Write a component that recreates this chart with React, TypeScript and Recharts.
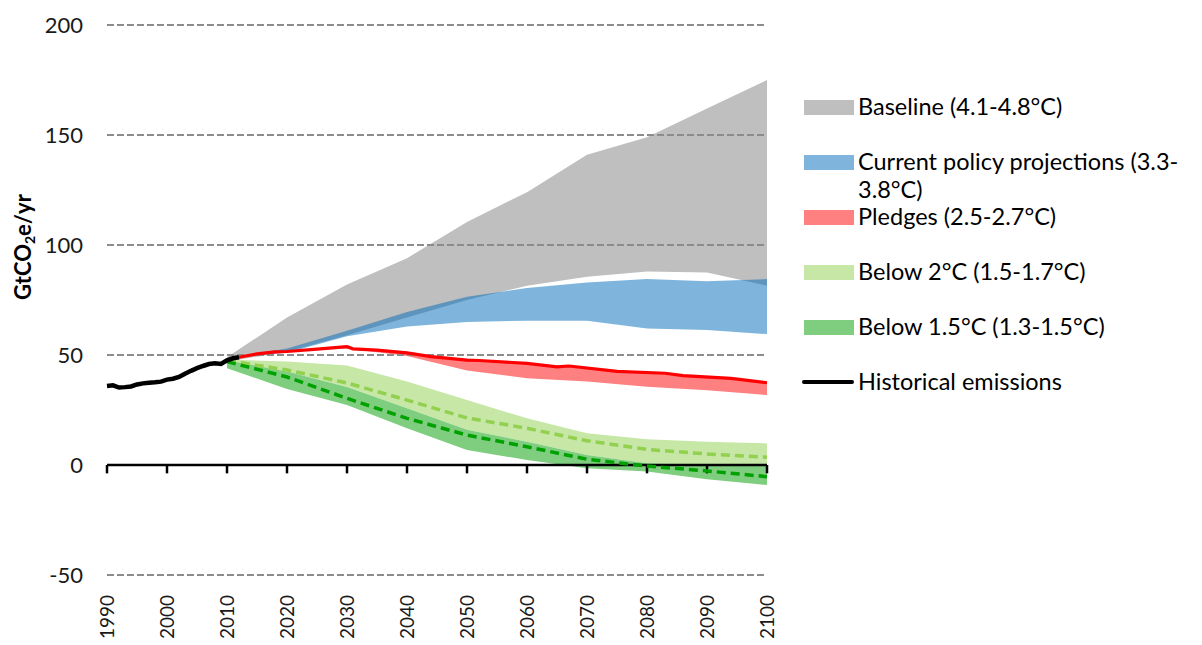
import { ComposedChart, Area, Line, XAxis, YAxis, ReferenceLine } from 'recharts'

// axis ticks
const decadeTicks = [1990, 2000, 2010, 2020, 2030, 2040, 2050, 2060, 2070, 2080, 2090, 2100]
const yTicks = [-50, 0, 50, 100, 150, 200]

// historical emissions (GtCO2e/yr)
const histYears = [1990, 1991, 1992, 1993, 1994, 1995, 1996, 1997, 1998, 1999, 2000, 2001, 2002, 2003, 2004, 2005, 2006, 2007, 2008, 2009, 2010, 2011, 2012]
const histValues = [35.9, 36.2, 35.2, 35.4, 35.7, 36.6, 37.1, 37.4, 37.6, 37.9, 38.8, 39.2, 40, 41.5, 42.8, 44, 45, 45.9, 46.2, 45.9, 47.6, 48.5, 49]

// scenario ranges, one value per decade
const bandYears = [2010, 2020, 2030, 2040, 2050, 2060, 2070, 2080, 2090, 2100]
const baselineLow = [47, 51.5, 59, 67, 75, 81.5, 85.6, 88, 87.5, 81.5]
const baselineHigh = [49, 67, 82, 94, 110.5, 124, 141, 149, 162, 175]
const currentLow = [48.5, 51, 58.5, 63, 65, 65.6, 65.6, 62, 61.4, 59.5]
const currentHigh = [48.5, 53, 61, 69.5, 76.5, 80.5, 83, 84.5, 83.5, 84.5]
const pledgeLow = [48.5, 51.5, 53, 49.5, 43, 39.4, 37.9, 35.6, 34, 31.8]
const pledgeHigh = [48.5, 51.4, 53.3, 50.6, 47.4, 45.9, 44.4, 41.8, 40, 37.2]
const below2Low = [47, 42.5, 35.5, 25.8, 16, 10.6, 4.5, 0.8, 0, -0.5]
const below2High = [48, 47, 45.2, 37.9, 29.5, 21.2, 14.4, 11.7, 10.6, 9.8]
const below2Median = [47.5, 43.2, 37.3, 29.5, 21.4, 16.7, 11, 7.1, 5, 3.5]
const below15Low = [44, 34.5, 27.3, 16.7, 6.8, 2.3, -1.5, -3, -6.5, -9.1]
const below15High = [47.5, 42.5, 35.5, 25.8, 16, 10.6, 4.5, 0.8, 0, -0.5]
const below15Median = [47, 40, 30.3, 21.2, 13.6, 8.3, 2.6, -0.5, -2.7, -5.3]

// pledge pathway (red line)
const pledgeLineYears = [2012, 2015, 2018, 2020, 2025, 2029, 2030, 2031, 2035, 2040, 2044, 2050, 2052, 2060, 2065, 2067, 2075, 2083, 2086, 2094, 2100]
const pledgeLineValues = [49, 50.5, 51.4, 51.6, 52.7, 53.6, 53.8, 52.8, 52.2, 51, 49.3, 47.7, 47.5, 46.2, 44.6, 45, 42.6, 41.7, 40.6, 39.4, 37.4]

const legendItems = [
	{ label: ['Baseline (4.1-4.8°C)'], color: '#bfbfbf', line: false },
	{ label: ['Current policy projections (3.3-', '3.8°C)'], color: '#7fb5dd', line: false },
	{ label: ['Pledges (2.5-2.7°C)'], color: '#ff8080', line: false },
	{ label: ['Below 2°C (1.5-1.7°C)'], color: '#c6e7a6', line: false },
	{ label: ['Below 1.5°C (1.3-1.5°C)'], color: '#7fce7f', line: false },
	{ label: ['Historical emissions'], color: '#000', line: true },
]

const W = 1186
const H = 637
const MARGIN = { top: 17, right: 427, bottom: 8, left: 0 }
const X_AXIS_H = 62
const TICK_DROP = 3.8 // tick marks hang below the zero line, in data units
const FONT = 'Lato, "Open Sans", sans-serif'

const range = (years: number[], lo: number[], hi: number[]) =>
	years.map((year, i) => ({ year, range: [lo[i], hi[i]] }))
const series = (years: number[], vals: number[]) => years.map((year, i) => ({ year, value: vals[i] }))

const XTick = (props: any) => {
	const { x, y, payload } = props
	return (
		<text
			transform={`translate(${x},${y + 20}) rotate(-90)`}
			textAnchor='end'
			dy='0.35em'
			fontSize={19}
			fontFamily={FONT}
			fill='#1a1a1a'
		>
			{payload.value}
		</text>
	)
}

const YLabel = () => (
	<text
		transform={`translate(23,${239}) rotate(-90)`}
		textAnchor='middle'
		fontSize={22}
		fontWeight='bold'
		fontFamily={FONT}
		fill='#000'
	>
		GtCO
		<tspan fontSize={14} dy={4}>
			2
		</tspan>
		<tspan dy={-4}>e/yr</tspan>
	</text>
)

export default function App() {
	return (
		<div style={{ position: 'relative', width: W, height: H, fontFamily: FONT }}>
			<ComposedChart width={W} height={H} margin={MARGIN}>
				<XAxis
					type='number'
					dataKey='year'
					domain={[1990, 2100]}
					ticks={decadeTicks}
					axisLine={false}
					tickLine={false}
					tickSize={0}
					tickMargin={0}
					height={X_AXIS_H}
					tick={<XTick />}
					interval={0}
					allowDuplicatedCategory={false}
				/>
				<YAxis
					type='number'
					domain={[yTicks[0], yTicks[yTicks.length - 1]]}
					ticks={yTicks}
					width={99}
					axisLine={false}
					tickLine={false}
					tickSize={0}
					tickMargin={24}
					tick={{ fontSize: 22, fill: '#1a1a1a', fontFamily: FONT }}
					label={<YLabel />}
				/>
				<Area data={range(bandYears, baselineLow, baselineHigh)} dataKey='range' type='linear' fill='#bfbfbf' fillOpacity={1} stroke='none' dot={false} activeDot={false} isAnimationActive={false} />
				<Area data={range(bandYears, currentLow, currentHigh)} dataKey='range' type='linear' fill='rgb(0,107,187)' fillOpacity={0.5} stroke='none' dot={false} activeDot={false} isAnimationActive={false} />
				<Area data={range(bandYears, pledgeLow, pledgeHigh)} dataKey='range' type='linear' fill='#ff8080' fillOpacity={1} stroke='none' dot={false} activeDot={false} isAnimationActive={false} />
				<Area data={range(bandYears, below2Low, below2High)} dataKey='range' type='linear' fill='#c6e7a6' fillOpacity={1} stroke='none' dot={false} activeDot={false} isAnimationActive={false} />
				<Area data={range(bandYears, below15Low, below15High)} dataKey='range' type='linear' fill='#7fce7f' fillOpacity={1} stroke='none' dot={false} activeDot={false} isAnimationActive={false} />
				{yTicks
					.filter((v) => v !== 0)
					.map((v) => (
						<ReferenceLine key={v} y={v} stroke='#8c8c8c' strokeWidth={2} strokeDasharray='7 3' />
					))}
				<ReferenceLine y={0} stroke='#000' strokeWidth={2.5} />
				{decadeTicks.map((t) => (
					<ReferenceLine
						key={'tick' + t}
						segment={[
							{ x: t, y: 0 },
							{ x: t, y: -TICK_DROP },
						]}
						stroke='#000'
						strokeWidth={2.5}
					/>
				))}
				<Line data={series(bandYears, below2Median)} dataKey='value' type='linear' stroke='#92d050' strokeWidth={3.5} strokeDasharray='9 5' dot={false} activeDot={false} isAnimationActive={false} />
				<Line data={series(bandYears, below15Median)} dataKey='value' type='linear' stroke='#00a000' strokeWidth={3.5} strokeDasharray='9 5' dot={false} activeDot={false} isAnimationActive={false} />
				<Line data={series(pledgeLineYears, pledgeLineValues)} dataKey='value' type='linear' stroke='#ff0000' strokeWidth={3.2} dot={false} activeDot={false} isAnimationActive={false} />
				<Line data={series(histYears, histValues)} dataKey='value' type='linear' stroke='#000' strokeWidth={4.5} dot={false} activeDot={false} isAnimationActive={false} />
			</ComposedChart>
			{legendItems.map((item, i) => (
				<div
					key={i}
					style={{
						position: 'absolute',
						left: 794,
						top: 84 + i * 55,
						display: 'flex',
						alignItems: 'flex-start',
						fontSize: 23.5,
						lineHeight: '28px',
						color: '#000',
						whiteSpace: 'nowrap',
					}}
				>
					<div
						style={{
							width: item.line ? 52 : 50,
							height: item.line ? 4 : 15,
							marginTop: item.line ? 13 : 8,
							marginLeft: item.line ? 0 : 2,
							background: item.color,
							borderRadius: item.line ? 2 : 0,
						}}
					/>
					<div style={{ marginLeft: 4 }}>
						{item.label.map((l) => (
							<div key={l}>{l}</div>
						))}
					</div>
				</div>
			))}
		</div>
	)
}
